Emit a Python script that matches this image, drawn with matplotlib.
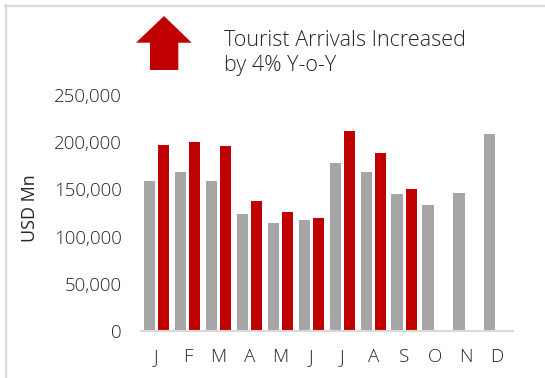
import matplotlib.pyplot as plt
import numpy as np
from matplotlib.patches import Polygon
from matplotlib.lines import Line2D
from matplotlib.ticker import FuncFormatter

# dados
meses = ['J', 'F', 'M', 'A', 'M', 'J', 'J', 'A', 'S', 'O', 'N', 'D']
ano_anterior = [158600, 168100, 158900, 123600, 114700, 117200, 178300, 168800, 145100, 133800, 146200, 209000]
ano_atual = [197000, 200200, 195600, 138000, 126400, 119300, 212200, 188900, 150400, np.nan, np.nan, np.nan]
y_ticks = [0, 50000, 100000, 150000, 200000, 250000]

cinza = '#a6a6a6'
vermelho = '#c00000'
texto = '#262626'

plt.rcParams['font.family'] = ['Open Sans', 'DejaVu Sans']
plt.rcParams['font.weight'] = 'light'

fig = plt.figure(figsize=(5.45, 3.78), dpi=100)
ax = fig.add_axes([0.2587, 0.1243, 0.6817, 0.6244])

x = np.arange(len(meses))
ax.bar(x - 0.23, ano_anterior, width=0.36, color=cinza)
ax.bar(x + 0.23, ano_atual, width=0.36, color=vermelho)

ax.set_xlim(-0.5, 11.5)
ax.set_ylim(0, 250000)
ax.set_xticks(x)
ax.set_xticklabels(meses)
ax.set_yticks(y_ticks)
ax.yaxis.set_major_formatter(FuncFormatter(lambda v, p: f"{int(v):,}"))
ax.tick_params(axis='both', length=0, labelsize=13.5, colors=texto)
ax.tick_params(axis='y', pad=14)
ax.tick_params(axis='x', pad=12)
ax.set_ylabel('USD Mn', fontsize=13, color=texto)
ax.yaxis.set_label_coords(-0.275, 0.521)

for s in ['top', 'right', 'left']:
    ax.spines[s].set_visible(False)
ax.spines['bottom'].set_color('#d9d9d9')
ax.spines['bottom'].set_linewidth(1.5)

# moldura
fig.add_artist(Line2D([5 / 545, 1], [1 - 6 / 378, 1 - 6 / 378], color='#d9d9d9', lw=1.6, transform=fig.transFigure))
fig.add_artist(Line2D([6 / 545, 6 / 545], [0, 1 - 5 / 378], color='#d9d9d9', lw=1.6, transform=fig.transFigure))

# seta
seta = [(136, 42.7), (164, 16), (191.7, 42.7), (178.3, 42.7), (178.3, 70), (150, 70), (150, 42.7)]
seta = [(px / 545, 1 - py / 378) for px, py in seta]
fig.add_artist(Polygon(seta, closed=True, facecolor=vermelho, lw=0, transform=fig.transFigure))

fig.text(224 / 545, 1 - 53 / 378, 'Tourist Arrivals Increased\nby 4% Y-o-Y', fontsize=15.5,
         color=texto, ha='left', va='center', linespacing=1.2)

fig.savefig('out.png', dpi=100)
